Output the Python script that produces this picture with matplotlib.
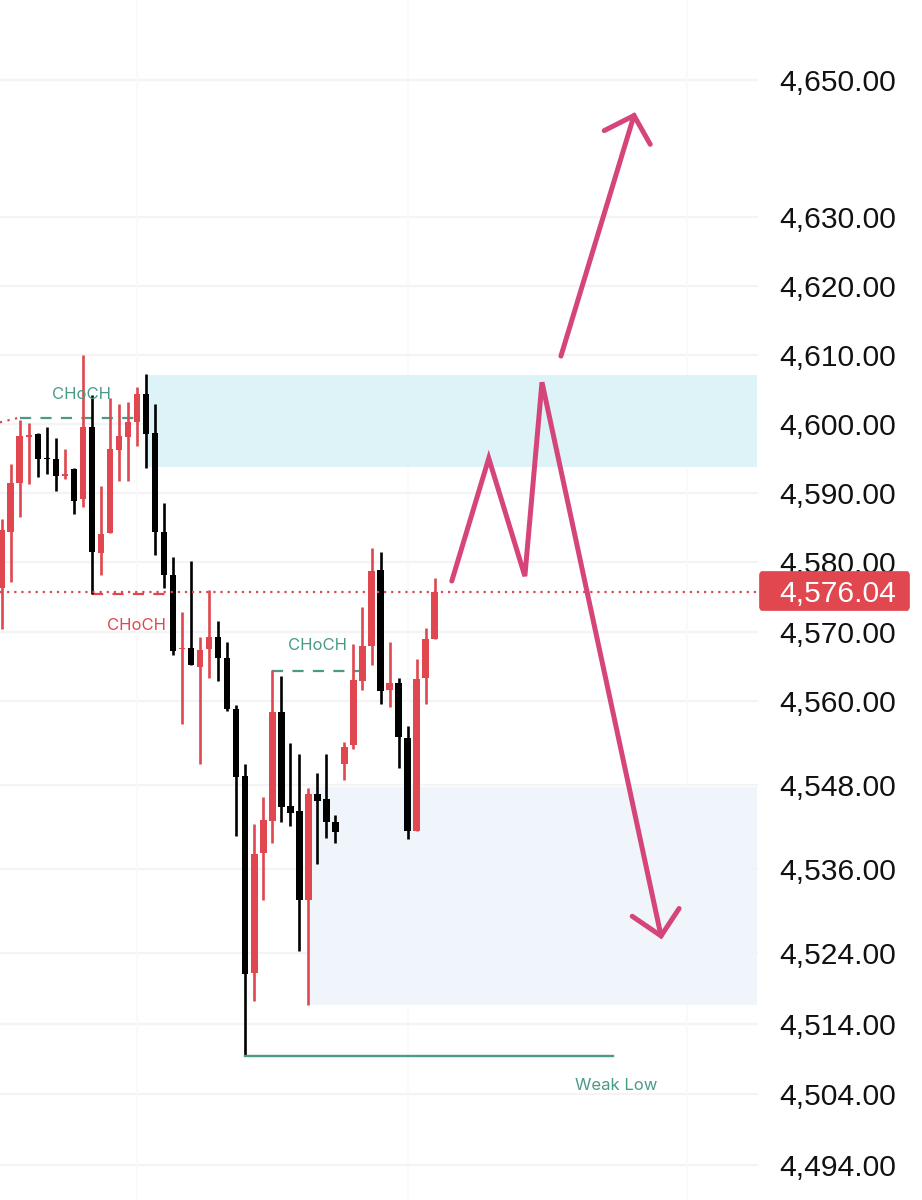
import numpy as np
import matplotlib
matplotlib.use("Agg")
import matplotlib.pyplot as plt
from matplotlib.patches import FancyBboxPatch

# candles, oldest first
opens = [4576.3, 4584.4, 4591.5, 4598.1, 4598.5, 4595.1, 4594.9, 4592.4, 4593.4, 4589.1,
         4599.5, 4581.4, 4584.2, 4596.2, 4598.1, 4600.2, 4604.3, 4598.7, 4584.4, 4578.1,
         4567.5, 4567.6, 4565.0, 4567.5, 4569.3, 4566.3, 4558.9, 4549.3, 4521.2, 4538.3,
         4542.9, 4558.5, 4545.1, 4544.3, 4531.6, 4546.7, 4546.0, 4542.8, 4551.1, 4553.8,
         4563.0, 4568.0, 4578.9, 4561.6, 4562.7, 4554.8, 4541.4, 4563.4, 4568.9]
highs = [4586.2, 4594.2, 4600.6, 4600.1, 4598.7, 4599.5, 4598.0, 4596.4, 4593.6, 4610.0,
         4604.2, 4591.0, 4603.7, 4602.8, 4603.1, 4605.3, 4607.2, 4602.8, 4588.5, 4580.7,
         4572.9, 4580.2, 4569.2, 4576.0, 4571.6, 4568.5, 4559.5, 4551.1, 4542.5, 4546.3,
         4564.5, 4563.6, 4554.0, 4552.4, 4547.6, 4549.8, 4552.5, 4543.8, 4554.2, 4568.2,
         4573.5, 4582.0, 4581.5, 4568.5, 4563.3, 4556.5, 4566.1, 4570.5, 4577.8]
lows = [4570.4, 4577.2, 4586.5, 4591.3, 4592.3, 4592.7, 4590.3, 4592.0, 4587.0, 4588.0,
        4575.5, 4578.2, 4584.2, 4591.7, 4591.7, 4596.8, 4593.6, 4581.0, 4576.3, 4566.7,
        4556.7, 4565.2, 4551.0, 4563.4, 4563.0, 4558.7, 4540.8, 4509.5, 4517.3, 4531.6,
        4539.7, 4542.7, 4542.2, 4524.4, 4516.7, 4536.7, 4540.4, 4539.7, 4548.8, 4553.2,
        4561.7, 4565.2, 4559.7, 4559.2, 4550.4, 4540.3, 4541.4, 4559.7, 4568.9]
closes = [4584.6, 4591.5, 4598.2, 4598.4, 4594.9, 4594.9, 4592.4, 4592.7, 4588.9, 4599.5,
          4581.5, 4584.1, 4596.4, 4598.2, 4600.2, 4604.3, 4598.5, 4584.4, 4578.1, 4567.2,
          4567.7, 4565.2, 4567.4, 4569.3, 4566.3, 4558.9, 4549.2, 4521.1, 4538.2, 4543.1,
          4558.5, 4544.9, 4544.0, 4531.6, 4546.7, 4545.7, 4542.8, 4541.3, 4553.5, 4563.1,
          4568.0, 4578.8, 4561.5, 4562.7, 4554.9, 4541.5, 4563.2, 4568.9, 4575.7]

price_ticks = [4650, 4630, 4620, 4610, 4600, 4590, 4580, 4570, 4560, 4548, 4536, 4524, 4514, 4504, 4494]
time_grid = [15, 45, 76]
last_line = 4575.7
last_label = "4,576.04"

supply_zone = (15.9, 83.7, 4593.7, 4607.1)
demand_zone = (34.0, 83.7, 4516.7, 4547.7)

choch_1 = ([2, 15], [4600.9, 4600.9])
choch_2 = ([10, 19], [4575.5, 4575.5])
choch_3 = ([30, 40], [4564.4, 4564.4])
weak_low = ([27, 67.8], [4509.5, 4509.5])
ema_left = ([-0.2, 2], [4600.2, 4600.9])

zigzag_x = [49.9, 54.0, 58.0, 59.9, 73.1]
zigzag_y = [4577.3, 4595.0, 4578.0, 4606.0, 4526.5]
head_low_x = [69.9, 73.1, 75.1]
head_low_y = [4529.3, 4526.5, 4530.4]
up_x = [62.0, 70.1]
up_y = [4609.8, 4644.8]
head_up_x = [66.8, 70.1, 71.9]
head_up_y = [4642.6, 4644.8, 4640.6]

RED = "#e0474f"
BLACK = "#000000"
GREEN = "#4a9a88"
PINK = "#d6457a"
GRID = "#f4f4f6"
SCALE_FONT = ['Liberation Sans', 'DejaVu Sans']

plt.rcParams['font.family'] = ['Inter', 'DejaVu Sans']

fig = plt.figure(figsize=(9.22, 12), dpi=100)
ax = fig.add_axes([0, 0, 1, 1])
ax.set_yscale('log')
ax.set_xlim(-0.188, 102.03)
ax.set_ylim(4489.06, 4661.71)
ax.axis('off')

# grid stops where the price scale starts
for p in price_ticks:
    ax.plot([-0.188, 83.7], [p, p], color=GRID, lw=1.6, zorder=1)
for t in time_grid:
    ax.plot([t, t], [4489.06, 4661.71], color="#fafafb", lw=1.2, zorder=1)

ax.fill_between(supply_zone[:2], supply_zone[2], supply_zone[3], color="#dcf3f7", alpha=0.95, lw=0, zorder=2)
ax.fill_between(demand_zone[:2], demand_zone[2], demand_zone[3], color="#eff4fc", alpha=0.9, lw=0, zorder=2)

for i in range(len(opens)):
    col = RED if closes[i] >= opens[i] else BLACK
    ax.plot([i, i], [lows[i], highs[i]], color=col, lw=1.9, solid_capstyle='butt', zorder=4)
    top = max(opens[i], closes[i])
    bottom = min(opens[i], closes[i])
    ax.bar(i, top - bottom, bottom=bottom, width=0.72, color=col, lw=0, zorder=4)

ax.plot(*choch_1, color=GREEN, lw=1.6, dashes=(5, 4.2), zorder=3)
ax.plot(*choch_2, color=RED, lw=1.6, dashes=(5, 4.2), zorder=3)
ax.plot(*choch_3, color=GREEN, lw=1.6, dashes=(5, 4.2), zorder=3)
ax.plot(*weak_low, color=GREEN, lw=1.7, zorder=5)
ax.plot(*ema_left, color=RED, lw=1.6, ls=(0, (1, 2.5)), zorder=3)
ax.plot([-0.188, 83.7], [last_line, last_line], color=RED, lw=1.6, ls=(0, (1, 2.2)), zorder=6)

ax.text(8.9, 4604.3, "CHoCH", color=GREEN, fontsize=12, ha='center', va='center', zorder=7)
ax.text(15.0, 4570.9, "CHoCH", color=RED, fontsize=12, ha='center', va='center', zorder=7)
ax.text(35.0, 4568.0, "CHoCH", color=GREEN, fontsize=12, ha='center', va='center', zorder=7)
ax.text(68.1, 4505.2, "Weak Low", color=GREEN, fontsize=12, ha='center', va='center', zorder=7)

ax.plot(zigzag_x, zigzag_y, color=PINK, lw=3.6, solid_joinstyle='miter', solid_capstyle='round', zorder=8)
ax.plot(head_low_x, head_low_y, color=PINK, lw=3.6, solid_joinstyle='miter', solid_capstyle='round', zorder=8)
ax.plot(up_x, up_y, color=PINK, lw=3.6, solid_capstyle='round', zorder=8)
ax.plot(head_up_x, head_up_y, color=PINK, lw=3.6, solid_joinstyle='miter', solid_capstyle='round', zorder=8)

# price scale, placed in figure pixels on the x side
for p in price_ticks:
    ax.text(896 / 922, p, f"{p:,.2f}", transform=ax.get_yaxis_transform(), color="#111111",
            fontsize=21.6, family=SCALE_FONT, ha='right', va='center_baseline', zorder=9)

tag = FancyBboxPatch((759.5 / 922, 1 - 610.5 / 1200), 150 / 922, 39 / 1200, transform=fig.transFigure,
                     boxstyle="round,pad=0,rounding_size=0.003", mutation_aspect=1.3,
                     fc=RED, ec=RED, lw=0.5, zorder=10)
ax.add_patch(tag)
ax.text(896 / 922, 1 - 591 / 1200, last_label, transform=fig.transFigure, color="white",
        fontsize=21.6, family=SCALE_FONT, ha='right', va='center_baseline', zorder=11)

fig.savefig("out.png", dpi=100)
